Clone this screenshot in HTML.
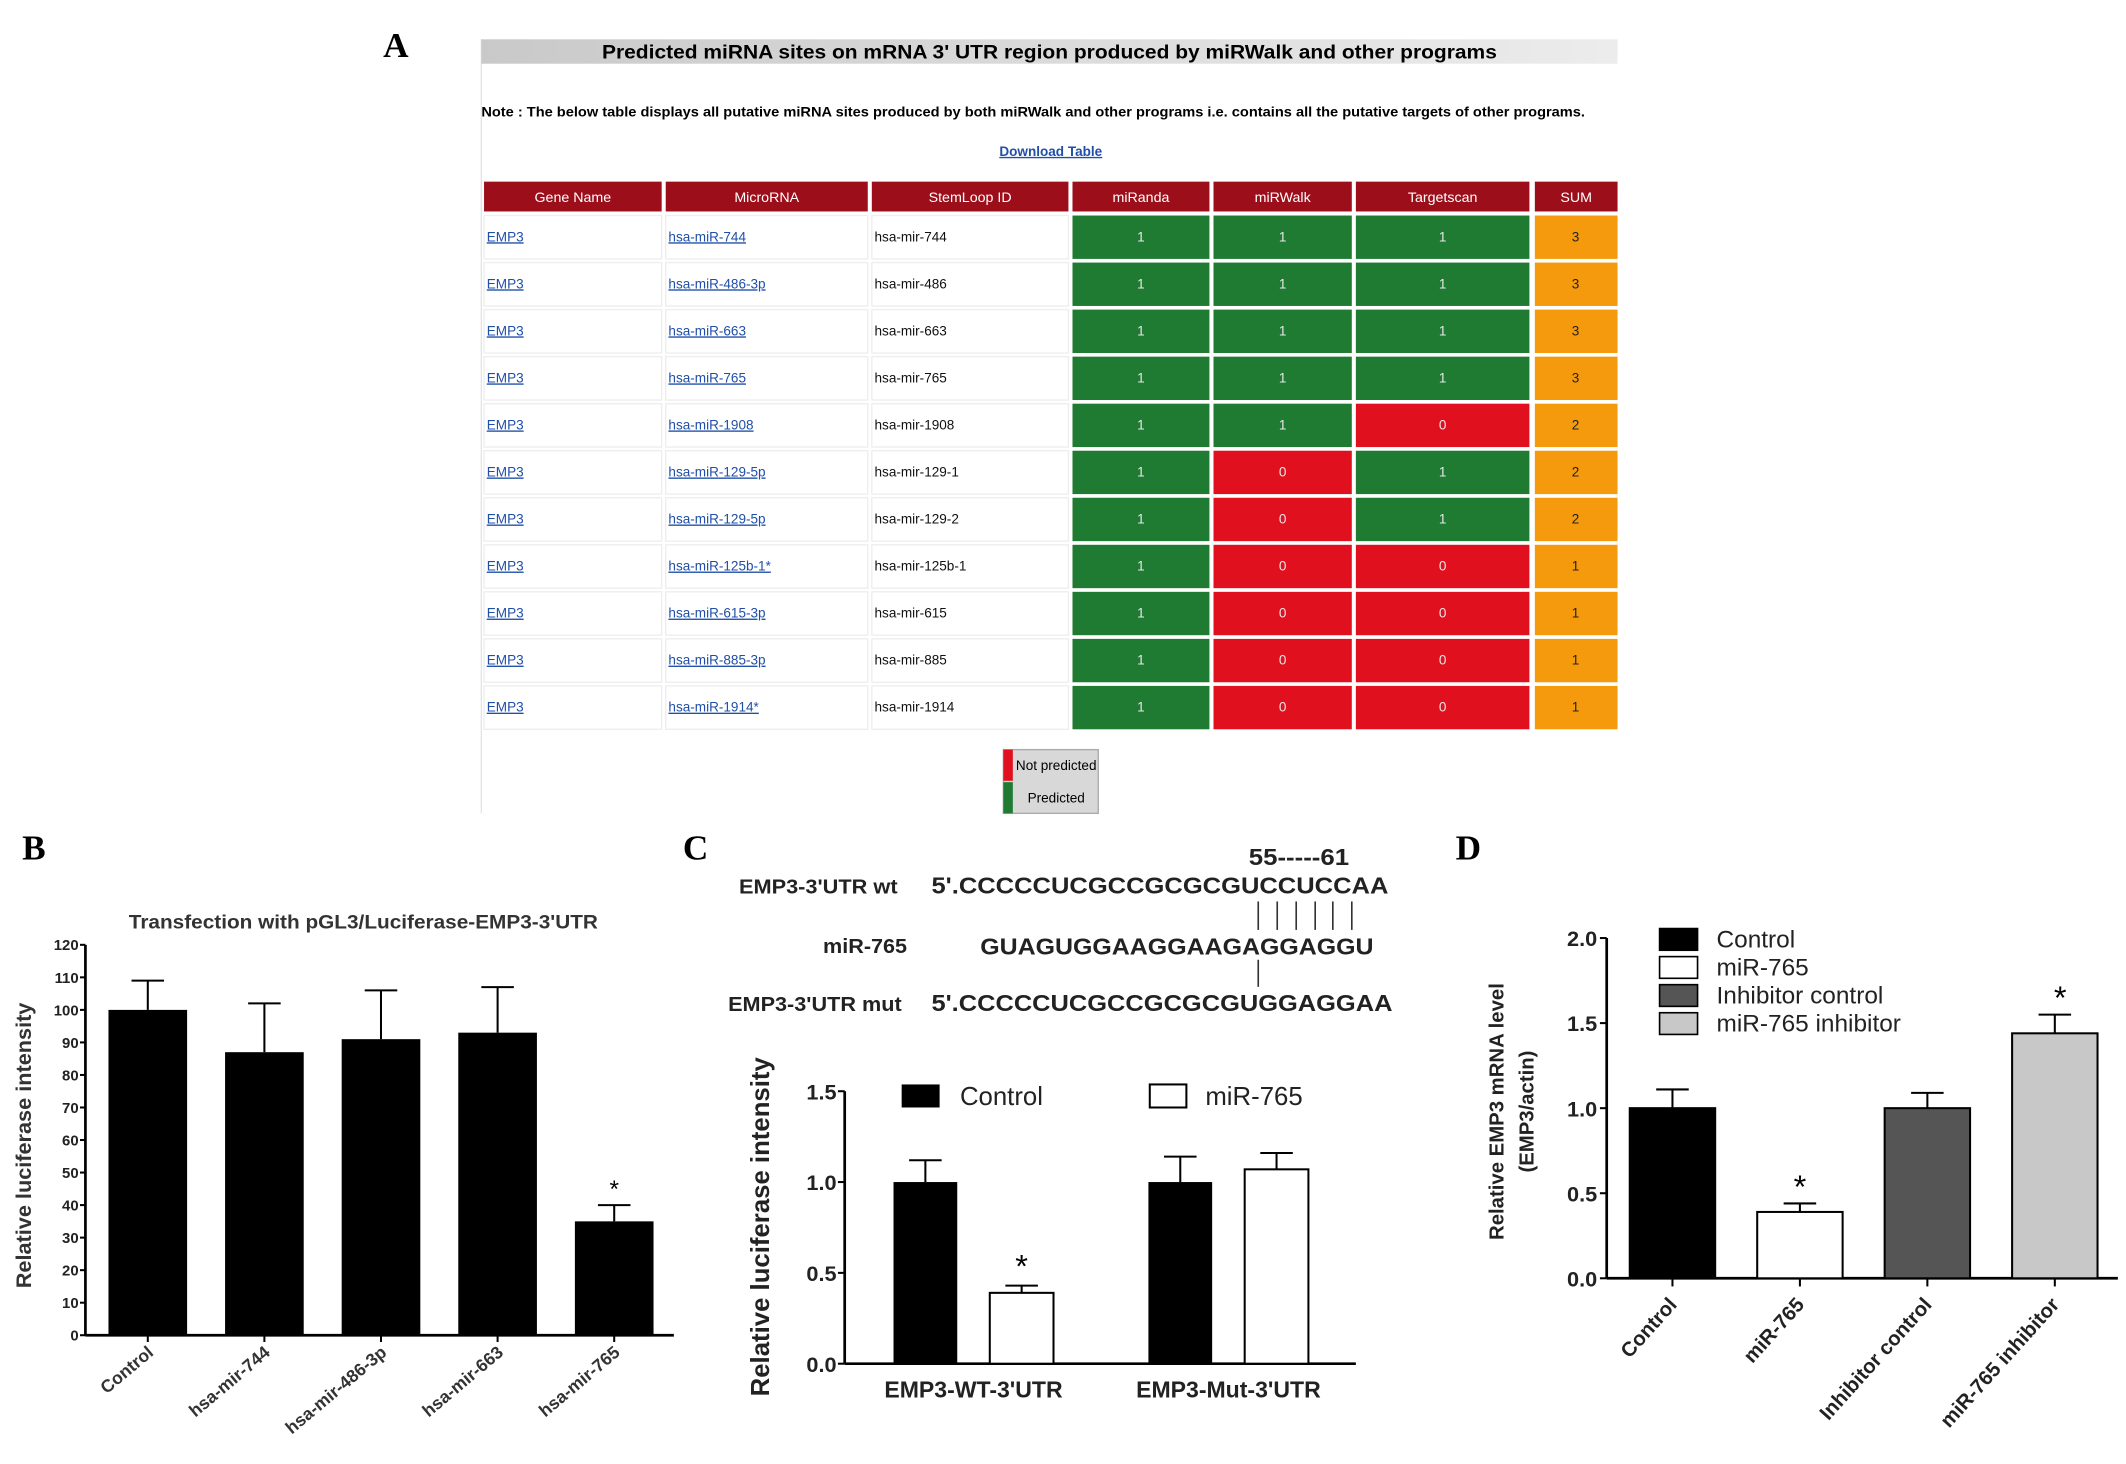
<!DOCTYPE html>
<html><head><meta charset="utf-8">
<style>
html,body{margin:0;padding:0;background:#fff;}
svg{display:block;}
text{font-family:"Liberation Sans",Arial,sans-serif;}
text.serif{font-family:"Liberation Serif","Times New Roman",serif;}
</style></head>
<body>
<svg id="fig" width="2126" height="1464" viewBox="0 0 1568 1080" preserveAspectRatio="none" xmlns="http://www.w3.org/2000/svg">
<rect x="0" y="0" width="1568" height="1080" fill="#fff"/>
</svg>
<script>
// ---------- data ----------
const tableGenes = ["EMP3","EMP3","EMP3","EMP3","EMP3","EMP3","EMP3","EMP3","EMP3","EMP3","EMP3"];
const tableMirnas = ["hsa-miR-744","hsa-miR-486-3p","hsa-miR-663","hsa-miR-765","hsa-miR-1908","hsa-miR-129-5p","hsa-miR-129-5p","hsa-miR-125b-1*","hsa-miR-615-3p","hsa-miR-885-3p","hsa-miR-1914*"];
const tableStemloops = ["hsa-mir-744","hsa-mir-486","hsa-mir-663","hsa-mir-765","hsa-mir-1908","hsa-mir-129-1","hsa-mir-129-2","hsa-mir-125b-1","hsa-mir-615","hsa-mir-885","hsa-mir-1914"];
const tableMiranda = [1,1,1,1,1,1,1,1,1,1,1];
const tableMirwalk = [1,1,1,1,1,0,0,0,0,0,0];
const tableTargetscan = [1,1,1,1,0,1,1,0,0,0,0];

const bCategories = ["Control","hsa-mir-744","hsa-mir-486-3p","hsa-mir-663","hsa-mir-765"];
const bValues = [100,87,91,93,35];
const bErrors = [109,102,106,107,40];
const bSig = [false,false,false,false,true];
const bTicks = [0,10,20,30,40,50,60,70,80,90,100,110,120];

const cGroups = ["EMP3-WT-3'UTR","EMP3-Mut-3'UTR"];
const cControl = [1.0,1.0];
const cControlErr = [1.12,1.14];
const cMir = [0.39,1.07];
const cMirErr = [0.43,1.16];
const cMirSig = [true,false];
const cTicks = [0.0,0.5,1.0,1.5];

const dCategories = ["Control","miR-765","Inhibitor control","miR-765 inhibitor"];
const dValues = [1.0,0.39,1.0,1.44];
const dErrors = [1.11,0.44,1.09,1.55];
const dSig = [false,true,false,true];
const dTicks = [0.0,0.5,1.0,1.5,2.0];

// ---------- helpers ----------
const svg = document.getElementById('fig');
const NS = "http://www.w3.org/2000/svg";
function el(tag, attrs, parent, txt){
  const e = document.createElementNS(NS, tag);
  for (const k in attrs) e.setAttribute(k, attrs[k]);
  if (txt !== undefined) e.textContent = txt;
  (parent||svg).appendChild(e);
  return e;
}
function grp(name){
  const g = el('g', {});
  
  
  return g;
}

// ---------- Panel A ----------
const gA = grp('panel-a-table');
let t = el('text',{x:292,y:42,class:'serif','font-weight':'bold','font-size':26,'text-anchor':'middle'},gA,'A');
 
el('line',{x1:355,y1:29,x2:355,y2:600,stroke:'#e4e4e4','stroke-width':1},gA);
const grad = el('linearGradient',{id:'tg',x1:0,y1:0,x2:1,y2:0},el('defs',{}));
el('stop',{offset:'0','stop-color':'#c9c9c9'},grad);
el('stop',{offset:'1','stop-color':'#ececec'},grad);
let r = el('rect',{x:355,y:29,width:838,height:18,fill:'url(#tg)'},gA);
 
t = el('text',{x:774,y:43,'font-weight':'bold','font-size':14.5,'text-anchor':'middle',textLength:660,lengthAdjust:'spacingAndGlyphs'},gA,"Predicted miRNA sites on mRNA 3' UTR region produced by miRWalk and other programs");
 
t = el('text',{x:355,y:86,'font-weight':'bold','font-size':10,textLength:814,lengthAdjust:'spacingAndGlyphs'},gA,"Note : The below table displays all putative miRNA sites produced by both miRWalk and other programs i.e. contains all the putative targets of other programs.");
 
t = el('text',{x:775,y:115,'font-weight':'bold','font-size':10,'text-anchor':'middle',fill:'#1f4fa8','text-decoration':'underline'},gA,'Download Table');
 

const colX = [357,491,643,791,895,1000,1132];
const colW = [131,149,145,101,102,128,61];
const headers = ["Gene Name","MicroRNA","StemLoop ID","miRanda","miRWalk","Targetscan","SUM"];
headers.forEach((h,i)=>{
  const hr = el('rect',{x:colX[i],y:134,width:colW[i],height:22,fill:'#9b0e1a'},gA);
   
  const ht = el('text',{x:colX[i]+colW[i]/2,y:149,'font-size':10.5,fill:'#fff','text-anchor':'middle'},gA,h);
   
});
const rowY0 = 159, rowH = 34.7;
tableGenes.forEach((g,i)=>{
  const y = rowY0 + i*rowH, cy = y+19;
  for (let c=0;c<3;c++){
    const wc = el('rect',{x:colX[c],y:y,width:colW[c],height:32,fill:'#fff',stroke:'#eeeeee','stroke-width':1},gA);
     
  }
  let tx = el('text',{x:359,y:cy,'font-size':10,fill:'#1f4fa8','text-decoration':'underline'},gA,g);
   
  tx = el('text',{x:493,y:cy,'font-size':10,fill:'#1f4fa8','text-decoration':'underline'},gA,tableMirnas[i]);
   
  tx = el('text',{x:645,y:cy,'font-size':10,fill:'#111'},gA,tableStemloops[i]);
   
  const vals = [tableMiranda[i],tableMirwalk[i],tableTargetscan[i]];
  vals.forEach((v,k)=>{
    const c = 3+k;
    const cr = el('rect',{x:colX[c],y:y,width:colW[c],height:32,fill:v? '#1f7a32':'#e0101e'},gA);
     
    const ct = el('text',{x:colX[c]+colW[c]/2,y:cy,'font-size':10,fill:'#e8e8e8','text-anchor':'middle'},gA,String(v));
     
  });
  const sum = vals[0]+vals[1]+vals[2];
  const sr = el('rect',{x:1132,y:y,width:61,height:32,fill:'#f59a0c'},gA);
   
  const st = el('text',{x:1162,y:cy,'font-size':10,fill:'#222','text-anchor':'middle'},gA,String(sum));
   
});
// legend
const gAL = grp('table-legend');
el('rect',{x:740,y:553,width:70,height:47,fill:'#d8d8d8',stroke:'#aaa'},gAL);
el('rect',{x:740,y:553,width:7,height:23,fill:'#e0101e'},gAL);
el('rect',{x:740,y:577,width:7,height:23,fill:'#1f7a32'},gAL);
t = el('text',{x:779,y:568,'font-size':10,'text-anchor':'middle'},gAL,'Not predicted');
 
t = el('text',{x:779,y:592,'font-size':10,'text-anchor':'middle'},gAL,'Predicted');
 

// ---------- Panel B ----------
const gB = grp('panel-b-chart');
t = el('text',{x:25,y:634,class:'serif','font-weight':'bold','font-size':26,'text-anchor':'middle'},gB,'B');
 
t = el('text',{x:268,y:685,'font-weight':'bold','font-size':14.5,'text-anchor':'middle',fill:'#333',textLength:346,lengthAdjust:'spacingAndGlyphs'},gB,"Transfection with pGL3/Luciferase-EMP3-3'UTR");
 
const bX0 = 63, bY0 = 985, bYmax = 697, bMax = 120;
const bY = v => bY0 - (v/bMax)*(bY0-bYmax);
const bCenter = i => 109 + i*86;
const bW = 58;
el('line',{x1:bX0,y1:bYmax,x2:bX0,y2:bY0,stroke:'#000','stroke-width':2},gB);
el('line',{x1:bX0,y1:bY0,x2:497,y2:bY0,stroke:'#000','stroke-width':2},gB);
bTicks.forEach(v=>{
  el('line',{x1:bX0-4,y1:bY(v),x2:bX0,y2:bY(v),stroke:'#000','stroke-width':1.5},gB);
  const tl = el('text',{x:bX0-5,y:bY(v)+4,'font-weight':'bold','font-size':11,'text-anchor':'end',fill:'#222'},gB,String(v));
   
});
t = el('text',{x:0,y:0,'font-weight':'bold','font-size':16,'text-anchor':'middle',fill:'#333',transform:'translate(23,845) rotate(-90)'},gB,'Relative luciferase intensity');
 
bCategories.forEach((c,i)=>{
  const cx = bCenter(i);
  el('line',{x1:cx,y1:bY(bValues[i]),x2:cx,y2:bY(bErrors[i]),stroke:'#000','stroke-width':1.5},gB);
  el('line',{x1:cx-12,y1:bY(bErrors[i]),x2:cx+12,y2:bY(bErrors[i]),stroke:'#000','stroke-width':1.5},gB);
  const b = el('rect',{x:cx-bW/2,y:bY(bValues[i]),width:bW,height:bY0-bY(bValues[i]),fill:'#000'},gB);
   
  el('line',{x1:cx,y1:bY0,x2:cx,y2:bY0+5,stroke:'#000','stroke-width':1.5},gB);
  if (bSig[i]){
    const s = el('text',{x:cx,y:bY(bErrors[i])-6,'font-size':18,'text-anchor':'middle'},gB,'*');
     
  }
  const xl = el('text',{x:0,y:0,'font-weight':'bold','font-size':13,'text-anchor':'end',fill:'#333',transform:`translate(${cx+5},${bY0+14}) rotate(-40)`},gB,c);
   
});

// ---------- Panel C ----------
const gC = grp('panel-c-chart');
t = el('text',{x:513,y:634,class:'serif','font-weight':'bold','font-size':26,'text-anchor':'middle'},gC,'C');
 
const seq = [
  ['55-----61',921,638,74,'seq-position'],
  ['EMP3-3\'UTR wt',545,659,117,'wt-label'],
  ['5\'.CCCCCUCGCCGCGCGUCCUCCAA',687,659,337,'wt-sequence'],
  ['miR-765',607,703,62,'mir-label'],
  ['GUAGUGGAAGGAAGAGGAGGU',723,704,290,'mir-sequence'],
  ['EMP3-3\'UTR mut',537,746,128,'mut-label'],
  ['5\'.CCCCCUCGCCGCGCGUGGAGGAA',687,746,340,'mut-sequence']
];
seq.forEach(s=>{
  const big = s[4].indexOf('sequence')>=0 || s[4]==='seq-position';
  const st = el('text',{x:s[1],y:s[2],'font-weight':'bold','font-size':big?17:15,fill:'#222',textLength:s[3],lengthAdjust:'spacingAndGlyphs'},gC,s[0]);
   
});
[928,942,956,970,983,997].forEach(x=>el('line',{x1:x,y1:665,x2:x,y2:686,stroke:'#333','stroke-width':1.2},gC));
el('line',{x1:928,y1:708,x2:928,y2:728,stroke:'#333','stroke-width':1.2},gC);

const cX0 = 623, cY0 = 1006, cYmax = 805, cMax = 1.5;
const cY = v => cY0 - (v/cMax)*(cY0-cYmax);
const cGroupLeft = i => 659 + i*188;
const cW = 47;
el('line',{x1:cX0,y1:cYmax,x2:cX0,y2:cY0,stroke:'#000','stroke-width':2},gC);
el('line',{x1:cX0,y1:cY0,x2:1000,y2:cY0,stroke:'#000','stroke-width':2},gC);
cTicks.forEach(v=>{
  el('line',{x1:cX0-5,y1:cY(v),x2:cX0,y2:cY(v),stroke:'#000','stroke-width':1.5},gC);
  const tl = el('text',{x:cX0-6,y:cY(v)+6,'font-weight':'bold','font-size':16,'text-anchor':'end',fill:'#222'},gC,v.toFixed(1));
   
});
t = el('text',{x:0,y:0,'font-weight':'bold','font-size':19,'text-anchor':'middle',fill:'#222',transform:'translate(567,905) rotate(-90)'},gC,'Relative luciferase intensity');
 
function errBar(g,cx,v,e){
  el('line',{x1:cx,y1:v,x2:cx,y2:e,stroke:'#000','stroke-width':1.5},g);
  el('line',{x1:cx-12,y1:e,x2:cx+12,y2:e,stroke:'#000','stroke-width':1.5},g);
}
cGroups.forEach((gname,i)=>{
  const x1 = cGroupLeft(i), x2 = x1+71;
  errBar(gC,x1+cW/2,cY(cControl[i]),cY(cControlErr[i]));
  let b = el('rect',{x:x1,y:cY(cControl[i]),width:cW,height:cY0-cY(cControl[i]),fill:'#000'},gC);
   
  errBar(gC,x2+cW/2,cY(cMir[i]),cY(cMirErr[i]));
  b = el('rect',{x:x2,y:cY(cMir[i]),width:cW,height:cY0-cY(cMir[i]),fill:'#fff',stroke:'#000','stroke-width':1.5},gC);
   
  if (cMirSig[i]){
    const s = el('text',{x:x2+cW/2,y:cY(cMirErr[i])-6,'font-size':24,'text-anchor':'middle'},gC,'*');
     
  }
  const gl = el('text',{x:x1+59,y:1031,'font-weight':'bold','font-size':17,'text-anchor':'middle',fill:'#222'},gC,gname);
   
});
let lg = el('rect',{x:665,y:800,width:28,height:17,fill:'#000'},gC);
 
t = el('text',{x:708,y:815,'font-size':19,fill:'#222'},gC,'Control');
 
lg = el('rect',{x:848,y:800,width:27,height:17,fill:'#fff',stroke:'#000','stroke-width':1.5},gC);
 
t = el('text',{x:889,y:815,'font-size':19,fill:'#222'},gC,'miR-765');
 

// ---------- Panel D ----------
const gD = grp('panel-d-chart');
t = el('text',{x:1083,y:634,class:'serif','font-weight':'bold','font-size':26,'text-anchor':'middle'},gD,'D');
 
const dX0 = 1185, dY0 = 943, dYmax = 692, dMax = 2.0;
const dY = v => dY0 - (v/dMax)*(dY0-dYmax);
const dCenter = i => 1233.5 + i*94;
const dW = 63;
const dFill = ['#000','#fff','#555','#c8c8c8'];
el('line',{x1:dX0,y1:dYmax,x2:dX0,y2:dY0,stroke:'#000','stroke-width':2},gD);
el('line',{x1:dX0,y1:dY0,x2:1562,y2:dY0,stroke:'#000','stroke-width':2},gD);
dTicks.forEach(v=>{
  el('line',{x1:dX0-5,y1:dY(v),x2:dX0,y2:dY(v),stroke:'#000','stroke-width':1.5},gD);
  const tl = el('text',{x:dX0-7,y:dY(v)+6,'font-weight':'bold','font-size':16,'text-anchor':'end',fill:'#222'},gD,v.toFixed(1));
   
});
t = el('text',{x:0,y:0,'font-weight':'bold','font-size':15,'text-anchor':'middle',fill:'#222',transform:'translate(1109,820) rotate(-90)'},gD,'Relative EMP3 mRNA level');
 
t = el('text',{x:0,y:0,'font-weight':'bold','font-size':15,'text-anchor':'middle',fill:'#222',transform:'translate(1131,820) rotate(-90)'},gD,'(EMP3/actin)');
 
dCategories.forEach((c,i)=>{
  const cx = dCenter(i);
  errBar(gD,cx,dY(dValues[i]),dY(dErrors[i]));
  const b = el('rect',{x:cx-dW/2,y:dY(dValues[i]),width:dW,height:dY0-dY(dValues[i]),fill:dFill[i],stroke:'#000','stroke-width':1.5},gD);
   
  el('line',{x1:cx,y1:dY0,x2:cx,y2:dY0+6,stroke:'#000','stroke-width':1.5},gD);
  if (dSig[i]){
    const s = el('text',{x:cx+(i===3?4:0),y:dY(dErrors[i])-4,'font-size':24,'text-anchor':'middle'},gD,'*');
     
  }
  const xl = el('text',{x:0,y:0,'font-weight':'bold','font-size':15,'text-anchor':'end',fill:'#222',transform:`translate(${cx+4},${dY0+20}) rotate(-48)`},gD,c);
   
  const ls = el('rect',{x:1224,y:685+i*20.7,width:28,height:16,fill:dFill[i],stroke:'#000','stroke-width':1.2},gD);
   
  const lt = el('text',{x:1266,y:699+i*20.7,'font-size':18,fill:'#222'},gD,c);
   
});
</script>
</body></html>
